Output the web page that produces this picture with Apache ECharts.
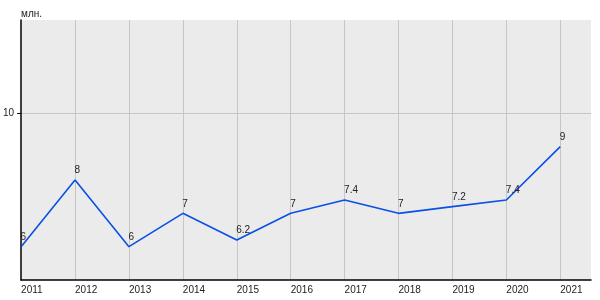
<!DOCTYPE html>
<html><head><meta charset="utf-8">
<script src="https://cdn.jsdelivr.net/npm/echarts@6/dist/echarts.min.js"></script>
<style>html,body{margin:0;padding:0;background:#fff}#c{width:600px;height:300px}</style>
</head><body><div id="c"></div>
<script>
const years = [2011, 2012, 2013, 2014, 2015, 2016, 2017, 2018, 2019, 2020, 2021];
const values = [6, 8, 6, 7, 6.2, 7, 7.4, 7, 7.2, 7.4, 9];
const unitLabel = 'млн.';

const chart = echarts.init(document.getElementById('c'), null, {renderer: 'canvas'});
const font = 'Liberation Sans, Arial, sans-serif';
chart.setOption({
  animation: false,
  backgroundColor: '#ffffff',
  grid: {left: 20, right: 9, top: 20, bottom: 20, show: true, backgroundColor: '#ebebeb', borderWidth: 0},
  graphic: [{type: 'text', left: 21, top: 9, style: {text: unitLabel, font: '10px ' + font, fill: '#222'}}],
  xAxis: {
    type: 'value', min: 2011, max: 2021.57, interval: 1,
    axisLine: {show: true, onZero: false, lineStyle: {color: '#000', width: 1.5}},
    axisTick: {show: false},
    axisLabel: {show: true, showMaxLabel: false, align: 'left', margin: 5, color: '#222', fontSize: 10, fontFamily: font,
      formatter: v => String(v)},
    splitLine: {show: true, showMinLine: false, showMaxLine: false, lineStyle: {color: '#c6c6c6', width: 1}}
  },
  yAxis: {
    type: 'value', min: 5, max: 12.8, interval: 5,
    axisLine: {show: true, lineStyle: {color: '#000', width: 1.5}},
    axisTick: {show: true, length: 4, lineStyle: {color: '#000'}},
    axisLabel: {showMinLabel: false, showMaxLabel: false, color: '#222', fontSize: 10, fontFamily: font, margin: 7},
    splitLine: {show: true, showMinLine: false, showMaxLine: false, lineStyle: {color: '#c6c6c6', width: 1}}
  },
  series: [{
    type: 'line',
    data: years.map((y, i) => [y, values[i]]),
    symbol: 'circle',
    symbolSize: 1,
    showSymbol: true,
    itemStyle: {color: 'rgba(0,0,0,0)'},
    lineStyle: {color: '#0a4fe6', width: 1.6},
    label: {show: true, position: [0, -14], align: 'left', color: '#222', fontSize: 10, fontFamily: font,
      formatter: p => String(p.value[1])}
  }]
});
</script></body></html>
